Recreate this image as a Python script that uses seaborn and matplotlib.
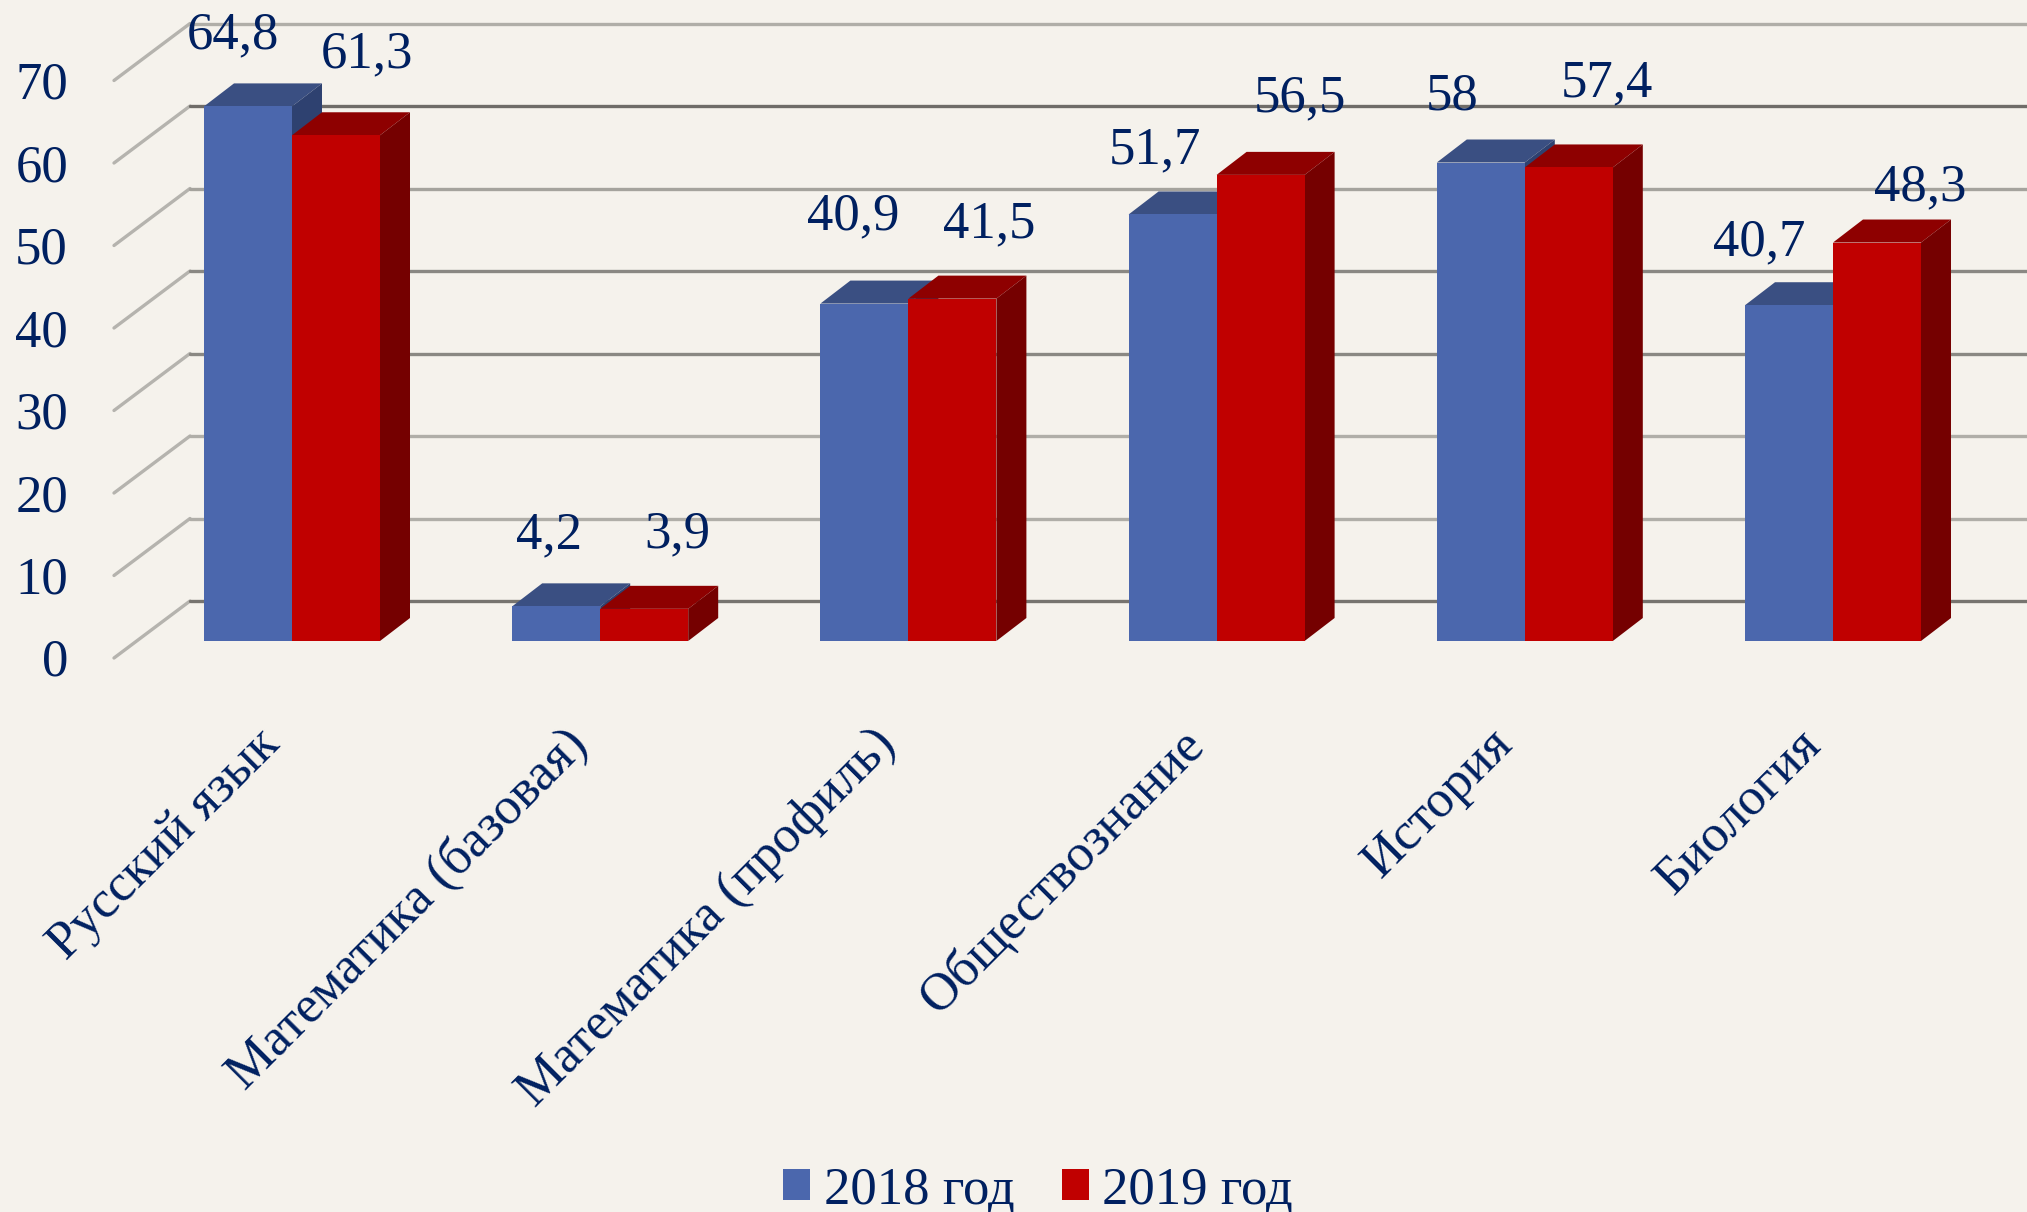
import pandas as pd
import matplotlib.pyplot as plt
from matplotlib.patches import Polygon
from matplotlib.transforms import ScaledTranslation
import seaborn as sns

# --- Datos ---
materias = ["Русский язык", "Математика (базовая)", "Математика (профиль)",
            "Обществознание", "История", "Биология"]
valores_2018 = [64.8, 4.2, 40.9, 51.7, 58, 40.7]
valores_2019 = [61.3, 3.9, 41.5, 56.5, 57.4, 48.3]
ticks_y = [0, 10, 20, 30, 40, 50, 60, 70]

df = pd.DataFrame({
    "materia": materias * 2,
    "valor": valores_2018 + valores_2019,
    "anio": ["2018 год"] * 6 + ["2019 год"] * 6,
})

# --- Escala en pixeles ---
PASO_X = 308.2
PX_Y = 8.25
X0 = 292
Y0 = 641
ANCHO, ALTO = 2027, 1212
FONDO = "#f5f2ec"
AZUL_TEXTO = "#002060"
TAM = 38

sns.set_theme(style="white")
plt.rcParams["font.family"] = ["Liberation Serif", "DejaVu Serif"]

fig = plt.figure(figsize=(ANCHO / 100, ALTO / 100), dpi=100, facecolor=FONDO)
ax = fig.add_axes([0, 0, 1, 1], facecolor=FONDO)

sns.barplot(data=df, x="materia", y="valor", hue="anio", order=materias,
            palette=["#4b67ad", "#c00000"], width=176 / PASO_X, saturation=1,
            linewidth=0, ax=ax, zorder=5)

ax.set_xlim(-X0 / PASO_X, (ANCHO - X0) / PASO_X)
ax.set_ylim((Y0 - ALTO) / PX_Y, Y0 / PX_Y)
for lado in ax.spines.values():
    lado.set_visible(False)
ax.set_xlabel("")
ax.set_ylabel("")
ax.set_yticks([])


def px_x(p):
    return (p - X0) / PASO_X


def px_y(p):
    return (Y0 - p) / PX_Y


# --- Pared del fondo: rejilla y escala ---
tonos = ["#77746f", "#b0aea8", "#b0aea8", "#8a8883", "#8a8883", "#a5a39d", "#6f6c68", "#b0aea8"]
for v, tono in zip(ticks_y, tonos):
    y_frente = px_y(658) + v
    y_fondo = px_y(601) + v
    ax.plot([px_x(114), px_x(190)], [y_frente, y_fondo], color="#b5b3ae", lw=2.4, zorder=1)
    ax.plot([px_x(190), px_x(ANCHO)], [y_fondo, y_fondo], color=tono, lw=2.4, zorder=1)
    ax.text(px_x(68), y_frente - 5 / PX_Y, str(v), ha="right", va="center",
            fontsize=TAM, color=AZUL_TEXTO)

# --- Caras laterales y superiores de las columnas ---
dx = 30 / PASO_X
dy = 23 / PX_Y
tapas = {"2018 год": ("#3a4f82", "#2e4170"), "2019 год": ("#8e0000", "#750000")}
desp_texto = [(-15, 71), (-7, 71), (-11, 87), (-18, 64), (-29, 66), (-30, 63),
              (31, 81), (33, 74), (37, 74), (39, 77), (38, 84), (43, 55)]
barras = [b for cont in ax.containers for b in cont]
for i, barra in enumerate(barras):
    x0 = barra.get_x()
    x1 = x0 + barra.get_width()
    h = barra.get_height()
    arriba, lado = tapas["2018 год" if i < 6 else "2019 год"]
    orden = 3 if i < 6 else 6
    barra.set_zorder(orden + 0.5)
    ax.add_patch(Polygon([(x0, h), (x1, h), (x1 + dx, h + dy), (x0 + dx, h + dy)],
                         color=arriba, lw=0, zorder=orden))
    ax.add_patch(Polygon([(x1, 0), (x1 + dx, dy), (x1 + dx, h + dy), (x1, h)],
                         color=lado, lw=0, zorder=orden))
    texto = f"{h:g}".replace(".", ",")
    ax.annotate(texto, (x0 + barra.get_width() / 2, h), xytext=desp_texto[i],
                textcoords="offset pixels", ha="center", va="center",
                fontsize=TAM, color=AZUL_TEXTO, zorder=10)

# --- Etiquetas de categorias ---
ax.spines["bottom"].set_position(("data", 0))
ax.tick_params(axis="x", length=0, pad=69, labelsize=TAM, labelcolor=AZUL_TEXTO, labelrotation=45)
corrimiento = ScaledTranslation(-20 / 100, 0, fig.dpi_scale_trans)
for t in ax.get_xticklabels():
    t.set_ha("right")
    t.set_va("center")
    t.set_rotation_mode("anchor")
    t.set_transform(t.get_transform() + corrimiento)

# --- Leyenda ---
handles, labels = ax.get_legend_handles_labels()
ax.legend(handles, labels, loc="lower center", bbox_to_anchor=(0.5121, -0.041), ncol=2,
          frameon=False, fontsize=TAM, labelcolor=AZUL_TEXTO, handlelength=0.52,
          handleheight=0.52, handletextpad=0.25, columnspacing=0.9)

plt.savefig("out.png", dpi=100, facecolor=FONDO)
